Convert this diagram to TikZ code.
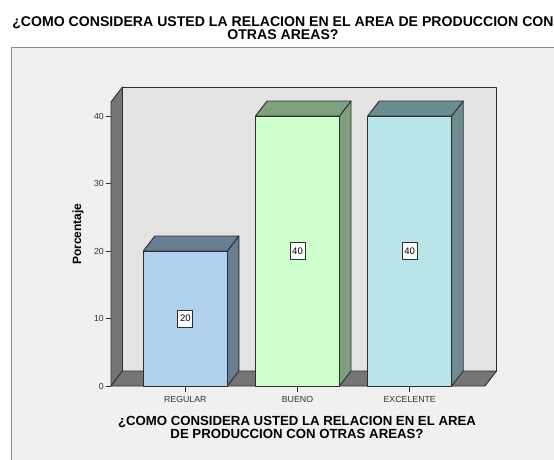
\documentclass[tikz,border=0pt]{standalone}
\usepackage{fontspec}
\setmainfont{Liberation Sans}
\definecolor{edge}{HTML}{2E2E2E}
\definecolor{outerbg}{HTML}{F0F0F0}
\definecolor{framec}{HTML}{8A8A8A}
\definecolor{wallback}{HTML}{E3E3E3}
\definecolor{wallside}{HTML}{757575}
\definecolor{regF}{HTML}{AFD0EE}
\definecolor{regS}{HTML}{687F93}
\definecolor{bueF}{HTML}{CCFFCC}
\definecolor{bueS}{HTML}{7FA07F}
\definecolor{excF}{HTML}{B8E6E8}
\definecolor{excS}{HTML}{6C8D8F}
\definecolor{txt}{HTML}{333333}
\tikzset{
  face/.style={draw=edge, line width=0.9pt, line join=round},
  ticklbl/.style={font=\fontsize{8.8}{10}\selectfont, text=txt, inner sep=1pt},
  vallbl/.style={draw=edge, fill=white, line width=0.8pt, font=\fontsize{9.5}{10}\selectfont, inner sep=1.5pt, minimum height=17pt, minimum width=15pt},
  ttl/.style={align=center, inner sep=0pt},
}
\newcommand{\threedbar}[4]{%
  % #1 left x, #2 top y (front), #3 front colour, #4 side colour
  \filldraw[face, fill=#4] (#1+84,386) -- (#1+95.5,371) -- (#1+95.5,#2-15) -- (#1+84,#2) -- cycle;
  \filldraw[face, fill=#4] (#1,#2) -- (#1+11.5,#2-15) -- (#1+95.5,#2-15) -- (#1+84,#2) -- cycle;
  \filldraw[face, fill=#3] (#1,#2) rectangle (#1+84,386);
}
\begin{document}
\begin{tikzpicture}[x=1pt, y=-1pt]
\useasboundingbox (0,0) rectangle (554,459);
\fill[white] (0,0) rectangle (554,459);
% outer frame
\filldraw[fill=outerbg, draw=framec, line width=1pt] (11.5,47.5) rectangle (560,465);
% title
\node[ttl, font=\fontsize{14.1}{11.6}\selectfont\bfseries] (title) at (283,27.8) {¿COMO CONSIDERA USTED LA RELACION EN EL AREA DE PRODUCCION CON\\OTRAS AREAS?};
% walls
\filldraw[face, fill=wallback] (122.5,87) rectangle (496.5,371);
\filldraw[face, fill=wallside] (111,102) -- (122.5,87) -- (122.5,371) -- (111,386) -- cycle;
\filldraw[face, fill=wallside] (111,386) -- (122.5,371) -- (496.5,371) -- (485,386) -- cycle;
% bars
\threedbar{143.3}{251}{regF}{regS}
\threedbar{255.5}{116}{bueF}{bueS}
\threedbar{367.7}{116}{excF}{excS}
% y ticks
\foreach \v/\yy in {0/386,10/318.5,20/251,30/183.5,40/116} {
  \draw[edge, line width=0.8pt] (105.5,\yy) -- (111,\yy);
  \node[ticklbl, anchor=east] (yt\v) at (105,\yy) {\v};
}
% x ticks
\foreach \xx/\lab/\nm in {185.3/REGULAR/r,297.5/BUENO/b,409.7/EXCELENTE/e} {
  \draw[edge, line width=0.8pt] (\xx,386) -- (\xx,392);
  \node[ticklbl] (xt\nm) at (\xx,399.5) {\lab};
}
% value labels
\node[vallbl] (v1) at (185.3,318.5) {20};
\node[vallbl] (v2) at (297.5,251) {40};
\node[vallbl] (v3) at (409.7,251) {40};
% axis titles
\node[ttl, rotate=90, font=\fontsize{12}{12}\selectfont\bfseries] (ytitle) at (78,234) {Porcentaje};
\node[ttl, font=\fontsize{13.2}{13.3}\selectfont\bfseries] (xtitle) at (297,427.5) {¿COMO CONSIDERA USTED LA RELACION EN EL AREA\\DE PRODUCCION CON OTRAS AREAS?};
\end{tikzpicture}
\end{document}
